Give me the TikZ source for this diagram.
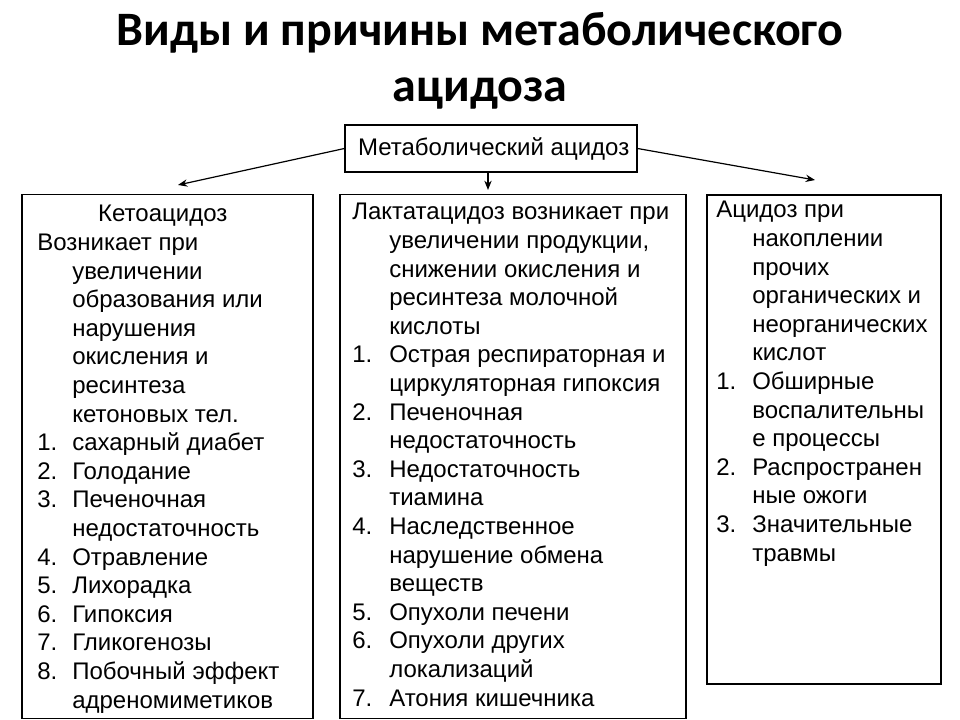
\documentclass[tikz,border=0pt]{standalone}
\usepackage{fontspec}
\setmainfont{Liberation Sans}
\newfontfamily\titlefont{Carlito}
\usetikzlibrary{arrows.meta}
\begin{document}
\begin{tikzpicture}[x=0.75pt,y=-0.75pt,
  boxline/.style={draw, line width=0.9pt, inner sep=0pt},
  txt/.style={anchor=base west, inner sep=0pt, font=\fontsize{18}{21.45}\selectfont},
  arr/.style={-{Stealth[length=7pt,width=5.5pt]}, line width=0.9pt}]
\useasboundingbox (0,0) rectangle (960,720);

\node[anchor=base, inner sep=0pt, font=\titlefont\bfseries\fontsize{36}{42}\selectfont] (title) at (480,46)
  {\begin{tabular}[t]{@{}c@{}}Виды и причины метаболического\\ ацидоза\end{tabular}};

\node[boxline, minimum width=219pt, minimum height=35.25pt, font=\fontsize{18}{21.6}\selectfont] (top) at (491,148.5) {\hspace*{4pt}Метаболический ацидоз};

\node[boxline, minimum width=218.25pt, minimum height=393pt] (kbox) at (167.5,456.5) {};
\node[boxline, minimum width=259.5pt, minimum height=393pt] (lbox) at (513,456.5) {};
\node[boxline, minimum width=175.5pt, minimum height=366.75pt] (obox) at (824,439.5) {};

\coordinate (kend) at (178,185);
\coordinate (lend) at (488,190);
\coordinate (oend) at (815,180);
\draw[arr] (top.west) -- (kend);
\draw[arr] (top.south -| lend) -- (lend);
\draw[arr] (top.east) -- (oend);

\node[txt] (ktxt) at (37,222) {\begin{tabular}[t]{@{}p{26.25pt}@{}l@{}}
\multicolumn{2}{@{}l@{}}{\hspace*{45.7pt}Кетоацидоз}\\
\multicolumn{2}{@{}l@{}}{Возникает при}\\
& увеличении\\
& образования или\\
& нарушения\\
& окисления и\\
& ресинтеза\\
& кетоновых тел.\\
1. & сахарный диабет\\
2. & Голодание\\
3. & Печеночная\\
& недостаточность\\
4. & Отравление\\
5. & Лихорадка\\
6. & Гипоксия\\
7. & Гликогенозы\\
8. & Побочный эффект\\
& адреномиметиков
\end{tabular}};

\node[txt] (ltxt) at (352,220) {\begin{tabular}[t]{@{}p{27.75pt}@{}l@{}}
\multicolumn{2}{@{}l@{}}{Лактатацидоз возникает при}\\
& увеличении продукции,\\
& снижении окисления и\\
& ресинтеза молочной\\
& кислоты\\
1. & Острая респираторная и\\
& циркуляторная гипоксия\\
2. & Печеночная\\
& недостаточность\\
3. & Недостаточность\\
& тиамина\\
4. & Наследственное\\
& нарушение обмена\\
& веществ\\
5. & Опухоли печени\\
6. & Опухоли других\\
& локализаций\\
7. & Атония кишечника
\end{tabular}};

\node[txt] (otxt) at (716,218) {\begin{tabular}[t]{@{}p{27pt}@{}l@{}}
\multicolumn{2}{@{}l@{}}{Ацидоз при}\\
& накоплении\\
& прочих\\
& органических и\\
& неорганических\\
& кислот\\
1. & Обширные\\
& воспалительны\\
& е процессы\\
2. & Распространен\\
& ные ожоги\\
3. & Значительные\\
& травмы
\end{tabular}};
\end{tikzpicture}
\end{document}
